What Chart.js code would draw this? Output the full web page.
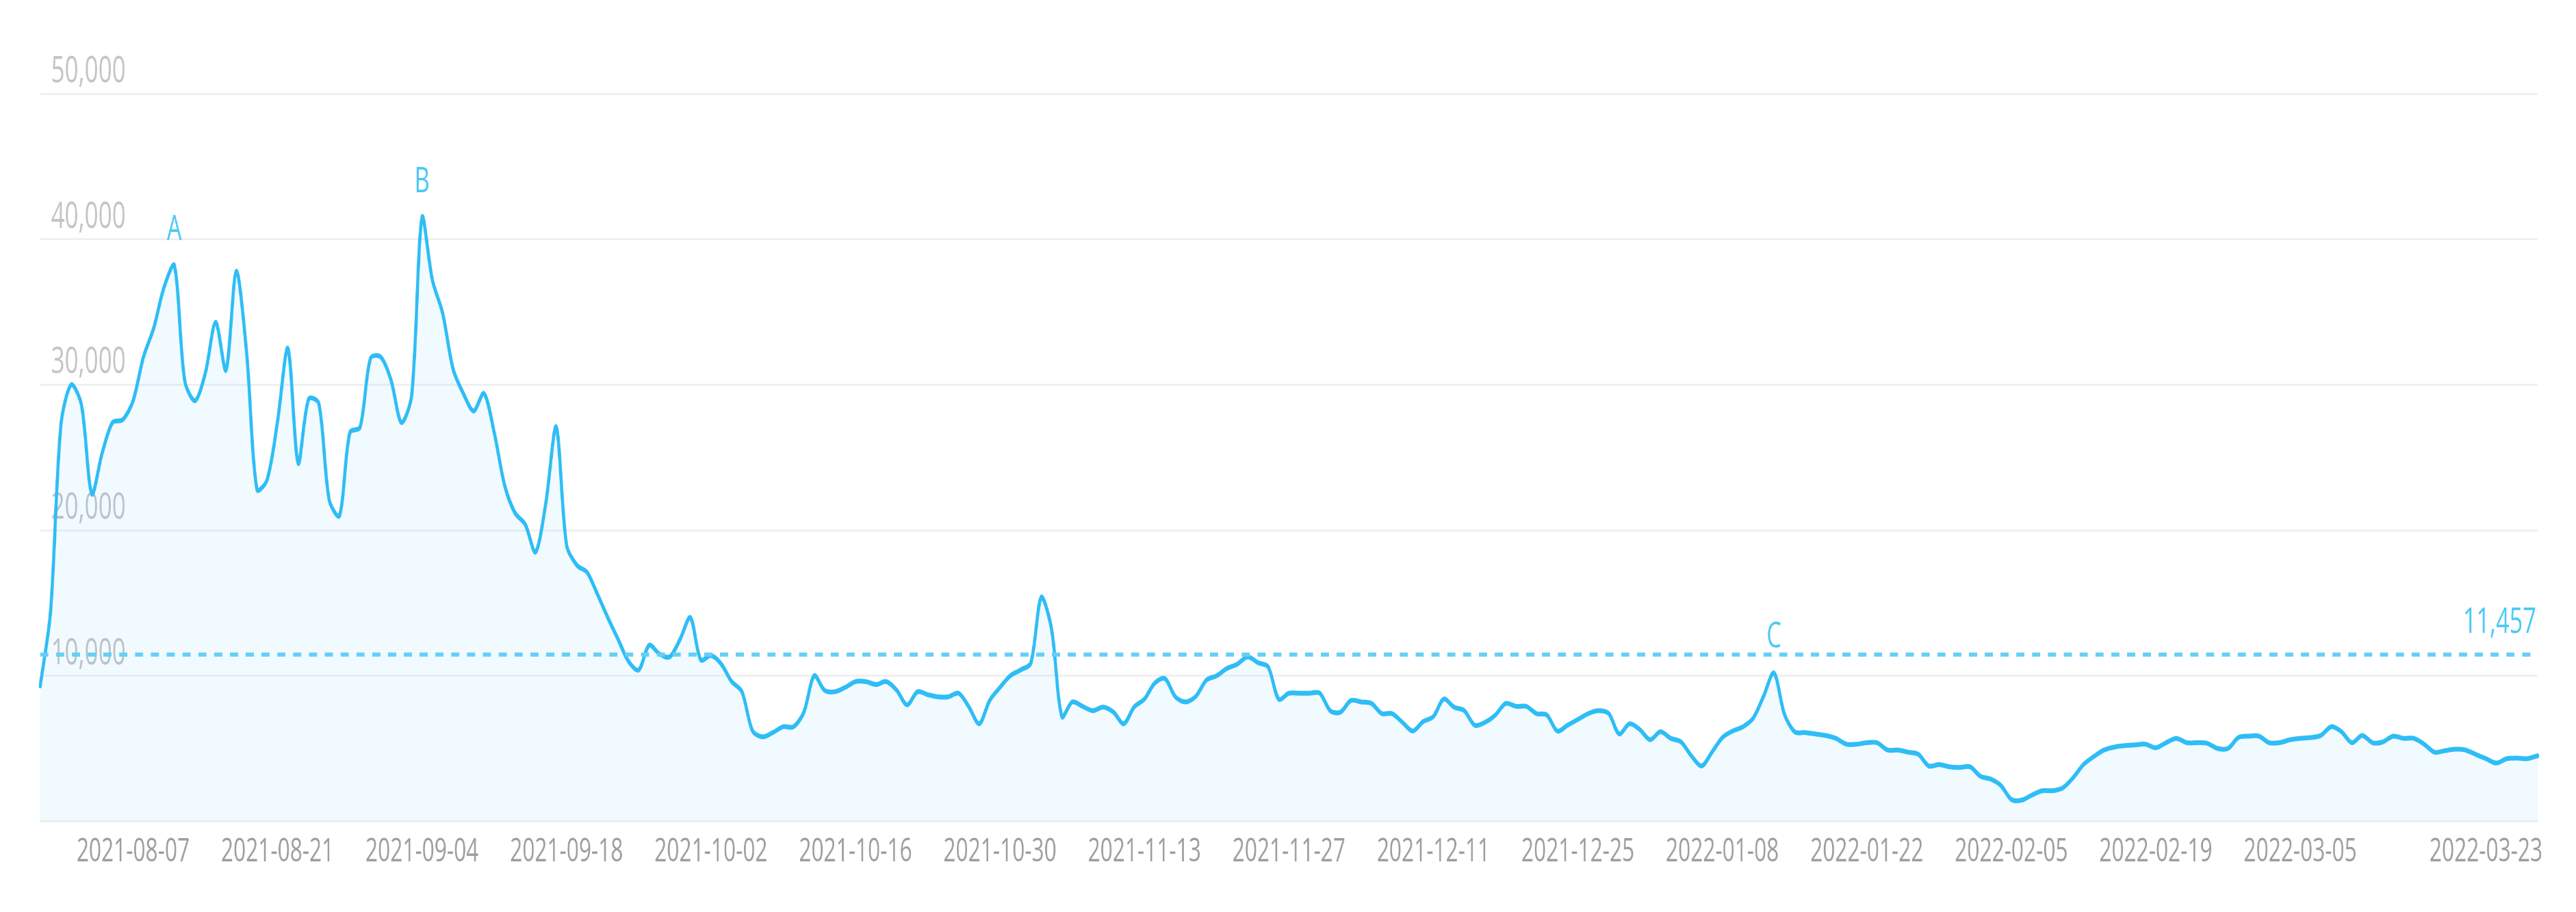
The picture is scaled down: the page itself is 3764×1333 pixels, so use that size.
<!DOCTYPE html>
<html>
<head>
<meta charset="utf-8">
<script src="https://cdn.jsdelivr.net/npm/chart.js@4.4.1/dist/chart.umd.min.js"></script>
<style>
html, body { margin: 0; padding: 0; background: #ffffff; overflow: hidden; width: 3764px; height: 1333px; }
#wrap { width: 5703px; height: 1333px; transform: scaleX(0.66); transform-origin: 0 0; }
canvas { display: block; }
</style>
</head>
<body>
<div id="wrap"><canvas id="c" width="5703" height="1333"></canvas></div>
<script>
// ---- data ----
const startDate = '2021-07-29';
const values = [
  9300, 14400, 27200, 30000, 28600, 22500, 25300, 27400, 27600, 28900,
  31900, 33900, 36700, 38200, 30300, 28900, 30800, 34300, 31000, 37800,
  32200, 22800, 23500, 27500, 32500, 24600, 29000, 28700, 22100, 21000,
  26700, 27100, 31800, 31900, 30300, 27400, 29300, 41500, 37200, 34900,
  31100, 29400, 28200, 29400, 26700, 23100, 21200, 20400, 18500, 21900,
  27100, 19000, 17600, 17100, 15600, 14000, 12500, 11000, 10400, 12100,
  11500, 11300, 12500, 14000, 11100, 11400, 10800, 9600, 8900, 6250,
  5800, 6100, 6500, 6500, 7500, 10000, 9000, 8900, 9200, 9600,
  9600, 9400, 9600, 9000, 8000, 8900, 8700, 8550, 8550, 8800,
  7850, 6700, 8300, 9200, 10000, 10400, 10900, 15400, 13200, 7200,
  8200, 7900, 7600, 7850, 7500, 6700, 7850, 8400, 9500, 9800,
  8550, 8200, 8600, 9700, 10000, 10500, 10800, 11300, 10900, 10600,
  8400, 8800, 8800, 8800, 8800, 7600, 7500, 8300, 8200, 8100,
  7400, 7400, 6800, 6200, 6850, 7200, 8400, 7850, 7600, 6600,
  6800, 7300, 8100, 7900, 7900, 7400, 7300, 6200, 6600, 7000,
  7400, 7600, 7400, 6000, 6700, 6300, 5600, 6150, 5700, 5450,
  4500, 3800, 4750, 5750, 6200, 6500, 7100, 8600, 10200, 7400,
  6150, 6100, 6000, 5900, 5700, 5300, 5300, 5400, 5400, 4900,
  4900, 4750, 4600, 3800, 3900, 3750, 3700, 3750, 3100, 2900,
  2450, 1500, 1450, 1800, 2100, 2100, 2300, 3000, 3900, 4450,
  4900, 5100, 5200, 5250, 5300, 5050, 5400, 5700, 5400, 5400,
  5350, 5000, 5000, 5750, 5850, 5850, 5400, 5400, 5600, 5700,
  5750, 5900, 6500, 6150, 5400, 5900, 5400, 5450, 5850, 5700,
  5700, 5300, 4750, 4850, 4950, 4900, 4600, 4300, 4000, 4300,
  4350, 4300, 4500
];
const tickLabels = [
  '2021-08-07', '2021-08-21', '2021-09-04', '2021-09-18', '2021-10-02',
  '2021-10-16', '2021-10-30', '2021-11-13', '2021-11-27', '2021-12-11',
  '2021-12-25', '2022-01-08', '2022-01-22', '2022-02-05', '2022-02-19',
  '2022-03-05', '2022-03-23'
];
const yTicks = [0, 10000, 20000, 30000, 40000, 50000];
const averageValue = 11457;
const markNames = ['A', 'B', 'C'];
const markDates = ['2021-08-11', '2021-09-04', '2022-01-13'];

// categories: one per day from startDate
const dates = [];
{
  const [y0, m0, d0] = startDate.split('-').map(Number);
  for (let i = 0; i < values.length; i++) {
    dates.push(new Date(Date.UTC(y0, m0 - 1, d0 + i)).toISOString().slice(0, 10));
  }
}

const LINE = '#2fbdf5';
const MARK = '#66cff5';
const FONT = '"Open Sans", "Noto Sans", sans-serif';

const annotations = {
  id: 'annotations',
  afterDatasetsDraw(chart) {
    const { ctx, chartArea, scales } = chart;
    const xs = scales.x, ys = scales.y;
    const yy = ys.getPixelForValue(averageValue);
    ctx.save();
    ctx.strokeStyle = MARK;
    ctx.lineWidth = 6;
    ctx.setLineDash([18, 17]);
    ctx.beginPath();
    ctx.moveTo(chartArea.left, yy);
    ctx.lineTo(chartArea.right - 15, yy);
    ctx.stroke();
    ctx.setLineDash([]);
    ctx.fillStyle = '#4cc8f5';
    ctx.font = '52px ' + FONT;
    ctx.textAlign = 'right';
    ctx.textBaseline = 'alphabetic';
    ctx.fillText(averageValue.toLocaleString('en-US'), chartArea.right - 3, yy - 32);
    ctx.textAlign = 'center';
    markDates.forEach((d, k) => {
      const idx = dates.indexOf(d);
      if (idx < 0) return;
      const px = xs.getPixelForValue(idx);
      const py = ys.getPixelForValue(values[idx]);
      ctx.fillText(markNames[k], px, py - 37);
    });
    ctx.restore();
  }
};

new Chart(document.getElementById('c'), {
  type: 'line',
  data: {
    labels: dates,
    datasets: [{
      data: values,
      borderColor: LINE,
      borderWidth: 7,
      backgroundColor: 'rgba(51,191,244,0.07)',
      fill: 'origin',
      pointRadius: 0,
      tension: 0.3,
      borderJoinStyle: 'round',
      borderCapStyle: 'round'
    }]
  },
  options: {
    responsive: false,
    animation: false,
    devicePixelRatio: 1,
    layout: { padding: { left: 41, right: 85, top: 137, bottom: 43 } },
    plugins: { legend: { display: false }, tooltip: { enabled: false } },
    scales: {
      x: {
        grid: { display: false, drawTicks: false },
        border: { display: true, color: '#eeeeee', width: 3 },
        ticks: {
          autoSkip: false,
          maxRotation: 0,
          minRotation: 0,
          padding: 16,
          color: '#9e9e9e',
          font: { family: FONT, size: 48 },
          callback: function (value, index) {
            const lbl = dates[index];
            return tickLabels.includes(lbl) ? lbl : '';
          }
        }
      },
      y: {
        min: yTicks[0],
        max: yTicks[yTicks.length - 1],
        afterBuildTicks: (scale) => { scale.ticks = yTicks.map(v => ({ value: v })); },
        grid: { color: '#f0f0f0', lineWidth: 3, drawTicks: false },
        border: { display: false },
        ticks: {
          mirror: true,
          padding: 24,
          labelOffset: -32,
          color: '#c4c4c4',
          font: { family: FONT, size: 53 },
          callback: (v) => (v === 0 ? '' : Number(v).toLocaleString('en-US'))
        }
      }
    }
  },
  plugins: [annotations]
});
</script>
</body>
</html>
